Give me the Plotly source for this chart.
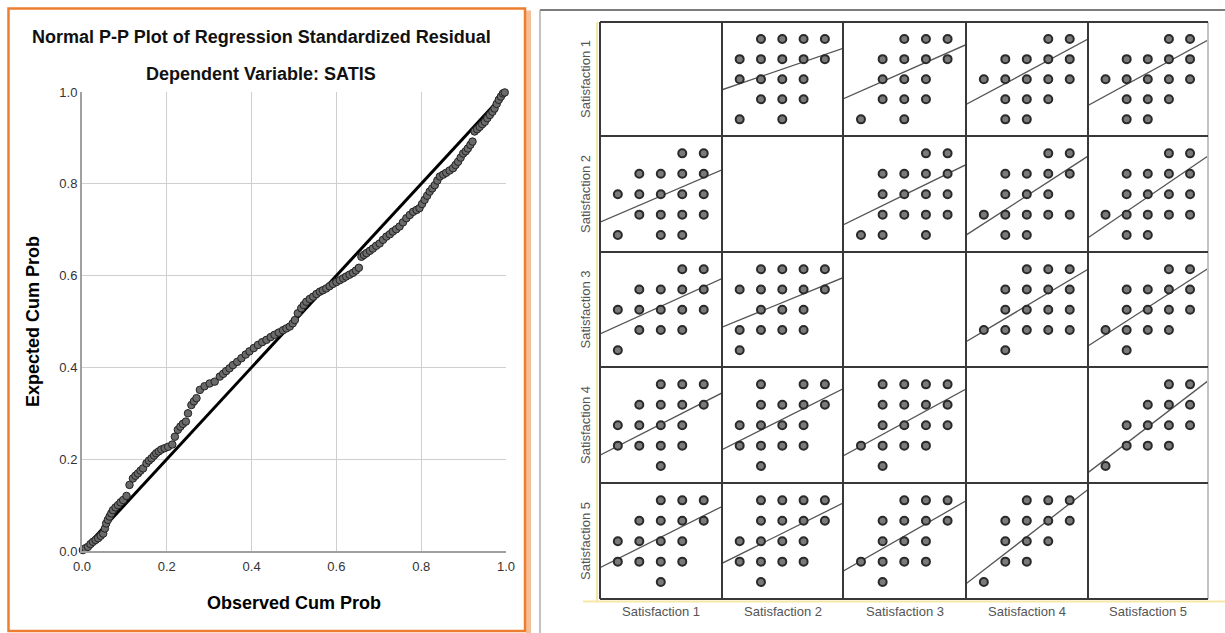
import plotly.graph_objects as go

W, H = 1225, 633

# ---------------- P-P plot data ----------------
PP_OBSERVED = [0.002, 0.008, 0.014, 0.02, 0.026, 0.032, 0.038, 0.044, 0.05, 0.054, 0.057, 0.061, 0.065, 0.069,
               0.073, 0.079, 0.085, 0.091, 0.097, 0.105, 0.112, 0.12, 0.126, 0.132, 0.138, 0.144, 0.152, 0.158,
               0.164, 0.17, 0.175, 0.181, 0.187, 0.195, 0.203, 0.213, 0.219, 0.226, 0.232, 0.238, 0.245, 0.25,
               0.258, 0.264, 0.27, 0.278, 0.289, 0.301, 0.313, 0.325, 0.333, 0.34, 0.348, 0.356, 0.366, 0.376,
               0.386, 0.395, 0.405, 0.415, 0.425, 0.435, 0.445, 0.454, 0.464, 0.474, 0.482, 0.49, 0.497, 0.502,
               0.509, 0.517, 0.523, 0.529, 0.537, 0.545, 0.553, 0.561, 0.568, 0.576, 0.584, 0.592, 0.6, 0.608,
               0.616, 0.623, 0.631, 0.639, 0.646, 0.653, 0.659, 0.665, 0.671, 0.679, 0.686, 0.694, 0.702, 0.71,
               0.718, 0.726, 0.733, 0.741, 0.749, 0.757, 0.765, 0.773, 0.781, 0.789, 0.796, 0.802, 0.808, 0.814,
               0.82, 0.826, 0.832, 0.838, 0.844, 0.852, 0.859, 0.867, 0.875, 0.881, 0.887, 0.893, 0.899, 0.905,
               0.91, 0.916, 0.921, 0.926, 0.932, 0.938, 0.944, 0.95, 0.956, 0.962, 0.968, 0.973, 0.978, 0.983,
               0.988, 0.993, 0.997]
PP_EXPECTED = [0.002, 0.006, 0.009, 0.015, 0.02, 0.024, 0.028, 0.033, 0.038, 0.049, 0.06, 0.068, 0.075, 0.082,
               0.089, 0.095, 0.1, 0.106, 0.111, 0.12, 0.144, 0.158, 0.164, 0.169, 0.175, 0.18, 0.191, 0.197,
               0.202, 0.208, 0.213, 0.217, 0.221, 0.224, 0.227, 0.232, 0.249, 0.264, 0.271, 0.277, 0.282, 0.3,
               0.318, 0.326, 0.333, 0.351, 0.359, 0.365, 0.369, 0.38, 0.386, 0.392, 0.398, 0.405, 0.412, 0.42,
               0.428, 0.435, 0.442, 0.449, 0.455, 0.46, 0.466, 0.471, 0.476, 0.481, 0.485, 0.489, 0.496, 0.503,
               0.518, 0.529, 0.536, 0.543, 0.549, 0.554, 0.56, 0.565, 0.568, 0.572, 0.577, 0.582, 0.586, 0.59,
               0.594, 0.598, 0.602, 0.606, 0.611, 0.617, 0.641, 0.645, 0.649, 0.654, 0.659, 0.665, 0.67, 0.678,
               0.685, 0.69, 0.696, 0.701, 0.707, 0.716, 0.725, 0.732, 0.739, 0.743, 0.747, 0.756, 0.765, 0.774,
               0.783, 0.79, 0.797, 0.807, 0.816, 0.82, 0.824, 0.829, 0.834, 0.841, 0.848, 0.857, 0.866, 0.871,
               0.877, 0.885, 0.892, 0.914, 0.919, 0.924, 0.93, 0.935, 0.943, 0.95, 0.957, 0.964, 0.974, 0.983,
               0.99, 0.997, 0.999]
REF_LINE = [0.0, 1.0]
PP_TICKS = [0.0, 0.2, 0.4, 0.6, 0.8, 1.0]
PP_TICK_LABELS = ["0.0", "0.2", "0.4", "0.6", "0.8", "1.0"]

# ---------------- Scatter matrix data ----------------
VAR_LABELS = ["Satisfaction 1", "Satisfaction 2", "Satisfaction 3", "Satisfaction 4", "Satisfaction 5"]
# distinct (x, y) combinations for upper-triangle cells: key = y value (row var), list = x values (column var)
PAIR_1_2 = {5: [2, 3, 4, 5], 4: [1, 2, 3, 4, 5], 3: [1, 2, 3, 4], 2: [2, 3, 4], 1: [1, 3]}
PAIR_1_3 = {5: [3, 4, 5], 4: [2, 3, 4, 5], 3: [2, 3, 4], 2: [2, 3, 4], 1: [1, 3]}
PAIR_1_4 = {5: [4, 5], 4: [2, 3, 4, 5], 3: [1, 2, 3, 4, 5], 2: [2, 3, 4], 1: [2, 3]}
PAIR_1_5 = {5: [4, 5], 4: [2, 3, 4, 5], 3: [1, 2, 3, 4, 5], 2: [2, 3, 4], 1: [2, 3]}
PAIR_2_3 = {5: [4, 5], 4: [2, 3, 4, 5], 3: [2, 3, 4, 5], 2: [2, 3, 4, 5], 1: [1, 2, 4]}
PAIR_2_4 = {5: [4, 5], 4: [2, 3, 4, 5], 3: [2, 3, 4], 2: [1, 2, 3, 4, 5], 1: [2, 3]}
PAIR_2_5 = {5: [4, 5], 4: [2, 3, 4, 5], 3: [2, 3, 4, 5], 2: [1, 2, 3, 4, 5], 1: [2, 3]}
PAIR_3_4 = {5: [3, 4, 5], 4: [2, 3, 4, 5], 3: [2, 3, 4, 5], 2: [1, 2, 3, 4, 5], 1: [2]}
PAIR_3_5 = {5: [4, 5], 4: [2, 3, 4, 5], 3: [2, 3, 4, 5], 2: [1, 2, 3, 4], 1: [2]}
PAIR_4_5 = {5: [4, 5], 4: [3, 4, 5], 3: [2, 3, 4, 5], 2: [2, 3, 4], 1: [1]}
UPPER_PAIRS = {(0, 1): PAIR_1_2, (0, 2): PAIR_1_3, (0, 3): PAIR_1_4, (0, 4): PAIR_1_5,
               (1, 2): PAIR_2_3, (1, 3): PAIR_2_4, (1, 4): PAIR_2_5,
               (2, 3): PAIR_3_4, (2, 4): PAIR_3_5, (3, 4): PAIR_4_5}

# fit line per cell [row][col]: slope and intercept (y = a + b*x)
FIT_SLOPE = [[None, 0.364, 0.475, 0.574, 0.574],
             [0.452, None, 0.519, 0.681, 0.704],
             [0.481, 0.431, None, 0.630, 0.674],
             [0.537, 0.525, 0.577, None, 0.792],
             [0.528, 0.519, 0.606, 0.812, None]]
FIT_INTERCEPT = [[None, 2.41, 1.94, 1.64, 1.59],
                 [1.55, None, 1.41, 0.88, 0.75],
                 [1.72, 2.06, None, 1.31, 1.09],
                 [1.44, 1.71, 1.40, None, 0.54],
                 [1.61, 1.83, 1.43, 0.78, None]]
CELL_RANGE = [0.17, 5.85]

# ---------------- layout constants (pixels) ----------------
PP_LEFT, PP_RIGHT, PP_TOP, PP_BOTTOM = 82, 506, 92, 551
GRID_X = [600, 722, 843, 966, 1088, 1208]
GRID_Y = [22, 136, 252, 367, 483, 599]


def px(x):
    return x / W


def py(y):
    return 1 - y / H


fig = go.Figure()

# P-P plot
fig.add_trace(go.Scatter(x=REF_LINE, y=REF_LINE, mode="lines", line=dict(color="#000000", width=3),
                         xaxis="x", yaxis="y", showlegend=False, hoverinfo="skip", cliponaxis=False))
fig.add_trace(go.Scatter(x=PP_OBSERVED, y=PP_EXPECTED, mode="markers",
                         marker=dict(size=7.5, color="#6a6a6a", line=dict(color="#222222", width=1)),
                         xaxis="x", yaxis="y", showlegend=False, cliponaxis=False))

layout = dict(
    width=W, height=H, margin=dict(l=0, r=0, t=0, b=0, autoexpand=False),
    paper_bgcolor="white", plot_bgcolor="white",
    font=dict(family="Liberation Sans, Arial, sans-serif", color="#000"),
    xaxis=dict(domain=[px(PP_LEFT), px(PP_RIGHT)], range=[0, 1], tickvals=PP_TICKS, ticktext=PP_TICK_LABELS,
               showgrid=True, gridcolor="#cfcfcf", gridwidth=1, zeroline=False, automargin=False,
               showline=True, linecolor="#a0a0a0", linewidth=2, ticks="outside", ticklen=2,
               tickcolor="rgba(0,0,0,0)", anchor="y",
               tickfont=dict(size=13, color="#333")),
    yaxis=dict(domain=[py(PP_BOTTOM), py(PP_TOP)], range=[0, 1], tickvals=PP_TICKS, ticktext=PP_TICK_LABELS,
               showgrid=True, gridcolor="#cfcfcf", gridwidth=1, zeroline=False, automargin=False,
               showline=True, linecolor="#a0a0a0", linewidth=2, ticks="", anchor="x",
               tickfont=dict(size=13, color="#333")),
)

# Scatter matrix
ax = 2
for i in range(5):
    for j in range(5):
        if i == j:
            continue
        xs, ys = [], []
        if i < j:
            pts = UPPER_PAIRS[(i, j)]
            for yv, xl in pts.items():
                for xv in xl:
                    xs.append(xv)
                    ys.append(yv)
        else:
            pts = UPPER_PAIRS[(j, i)]
            for yv, xl in pts.items():
                for xv in xl:
                    xs.append(yv)
                    ys.append(xv)
        xa, ya = f"x{ax}", f"y{ax}"
        fx = CELL_RANGE
        fy = [FIT_INTERCEPT[i][j] + FIT_SLOPE[i][j] * v for v in fx]
        fig.add_trace(go.Scatter(x=fx, y=fy, mode="lines", line=dict(color="#555555", width=1.3),
                                 xaxis=xa, yaxis=ya, showlegend=False, hoverinfo="skip"))
        fig.add_trace(go.Scatter(x=xs, y=ys, mode="markers",
                                 marker=dict(size=8, color="#7a7a7a", line=dict(color="#2a2a2a", width=2)),
                                 xaxis=xa, yaxis=ya, showlegend=False, cliponaxis=False))
        common = dict(range=CELL_RANGE, showgrid=False, zeroline=False, showticklabels=False,
                      ticks="", showline=False, fixedrange=True, automargin=False)
        layout[f"xaxis{ax}"] = dict(domain=[px(GRID_X[j]), px(GRID_X[j + 1])], anchor=ya, **common)
        layout[f"yaxis{ax}"] = dict(domain=[py(GRID_Y[i + 1]), py(GRID_Y[i])], anchor=xa, **common)
        ax += 1

shapes = []
# orange frame around left panel
shapes.append(dict(type="rect", xref="paper", yref="paper", x0=px(527.5), x1=px(529.5), y0=py(632), y1=py(12),
                   line=dict(color="#F6BE97", width=3)))
shapes.append(dict(type="rect", xref="paper", yref="paper", x0=px(8.5), x1=px(525), y0=py(631), y1=py(8.5),
                   line=dict(color="#ED7D31", width=2.5)))
# right panel frame
shapes.append(dict(type="line", xref="paper", yref="paper", x0=px(540), x1=px(1225), y0=py(10), y1=py(10),
                   line=dict(color="#505050", width=1.5)))
shapes.append(dict(type="line", xref="paper", yref="paper", x0=px(540), x1=px(540), y0=py(10), y1=py(633),
                   line=dict(color="#9a9a9a", width=1.2)))
# yellow accents
shapes.append(dict(type="line", xref="paper", yref="paper", x0=px(597), x1=px(597), y0=py(22), y1=py(601),
                   line=dict(color="#F7E7A6", width=2)))
shapes.append(dict(type="line", xref="paper", yref="paper", x0=px(583), x1=px(1225), y0=py(601.5), y1=py(601.5),
                   line=dict(color="#F7E7A6", width=2)))
# grid lines
for k, gx in enumerate(GRID_X):
    col = "#c4c4c4" if k == len(GRID_X) - 1 else "#383838"
    shapes.append(dict(type="line", xref="paper", yref="paper", x0=px(gx), x1=px(gx),
                       y0=py(GRID_Y[0]), y1=py(GRID_Y[-1]), line=dict(color=col, width=2)))
for k, gy in enumerate(GRID_Y):
    shapes.append(dict(type="line", xref="paper", yref="paper", x0=px(GRID_X[0]), x1=px(GRID_X[-1]),
                       y0=py(gy), y1=py(gy), line=dict(color="#383838", width=2.2 if k in (0, 5) else 2)))
layout["shapes"] = shapes

annotations = [
    dict(text="<b>Normal P-P Plot of Regression Standardized Residual</b>", x=px(261), y=py(37), xref="paper",
         yref="paper", showarrow=False, font=dict(size=18, color="#111"), xanchor="center", yanchor="middle"),
    dict(text="<b>Dependent Variable: SATIS</b>", x=px(261), y=py(74), xref="paper", yref="paper",
         showarrow=False, font=dict(size=18, color="#111"), xanchor="center", yanchor="middle"),
    dict(text="<b>Expected Cum Prob</b>", x=px(33), y=py(322), xref="paper", yref="paper", showarrow=False,
         textangle=-90, font=dict(size=18, color="#000"), xanchor="center", yanchor="middle"),
    dict(text="<b>Observed Cum Prob</b>", x=px(294), y=py(603), xref="paper", yref="paper", showarrow=False,
         font=dict(size=18, color="#000"), xanchor="center", yanchor="middle"),
]
for k, lab in enumerate(VAR_LABELS):
    annotations.append(dict(text=lab, x=px(585), y=py((GRID_Y[k] + GRID_Y[k + 1]) / 2), xref="paper",
                            yref="paper", showarrow=False, textangle=-90,
                            font=dict(size=13, color="#555"), xanchor="center", yanchor="middle"))
    annotations.append(dict(text=lab, x=px((GRID_X[k] + GRID_X[k + 1]) / 2), y=py(611), xref="paper",
                            yref="paper", showarrow=False,
                            font=dict(size=13, color="#555"), xanchor="center", yanchor="middle"))
layout["annotations"] = annotations

fig.update_layout(**layout)
fig.write_html("out.html")
